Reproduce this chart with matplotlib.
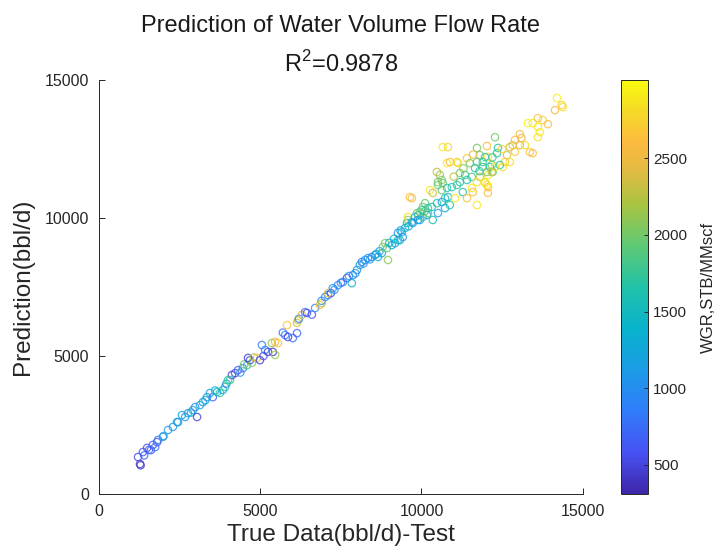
import numpy as np
import matplotlib.pyplot as plt
from matplotlib.colors import LinearSegmentedColormap, Normalize
from matplotlib.cm import ScalarMappable

plt.rcParams['font.family'] = ['Liberation Sans', 'DejaVu Sans']
plt.rcParams['mathtext.fontset'] = 'custom'
plt.rcParams['mathtext.rm'] = 'Liberation Sans'

# true value (bbl/d), predicted value (bbl/d), WGR (STB/MMscf)
true_low = [1270, 1290, 1210, 1360, 1400, 1490, 1550, 1610, 1670, 1740, 1800, 1830, 1980, 2000,
            2140, 2290, 2420, 2450, 2570, 2670, 2760, 2850, 2910, 3040, 2980, 3130, 3220, 3300,
            3350, 3440, 3530, 3600, 3660, 3750, 3840, 3910, 3950, 4060, 4120]
pred_low = [1087, 1040, 1340, 1520, 1400, 1670, 1600, 1590, 1780, 1700, 1880, 1960, 2070, 2100,
            2320, 2430, 2610, 2600, 2860, 2790, 2930, 2950, 3040, 2790, 3150, 3220, 3330, 3400,
            3510, 3660, 3510, 3750, 3700, 3660, 3770, 3880, 4000, 4130, 4310]
wgr_low = [450, 400, 500, 600, 700, 550, 650, 700, 650, 750, 600, 800, 1150, 1100,
           1100, 1050, 1200, 1150, 1250, 1000, 1150, 1200, 1300, 500, 900, 1250, 1000, 1350,
           1100, 1200, 700, 1350, 1400, 1750, 1300, 1600, 1000, 1650, 450]

true_mid = [4000, 4220, 4310, 4380, 4460, 4500, 4590, 4680, 4740, 4620, 4800, 4900, 4990, 5050,
            5100, 5150, 5240, 5360, 5390, 5460, 5550, 5460, 5700, 5770, 5860, 5830, 6010, 6140,
            6140, 6170, 6200, 6290, 6390, 6450, 6600, 6700, 6850, 6900, 6910, 7010, 7100, 7190,
            7100]
pred_mid = [4130, 4380, 4490, 4400, 4560, 4700, 4670, 4850, 4750, 4930, 4950, 4930, 4850, 5400,
            5000, 5220, 5150, 5470, 5150, 5040, 5470, 5510, 5850, 5760, 5690, 6120, 5650, 5830,
            6200, 6300, 6350, 6490, 6590, 6560, 6500, 6740, 6850, 7000, 6920, 7140, 7210, 7280,
            7280]
wgr_mid = [1750, 500, 650, 1100, 800, 2000, 1750, 500, 2050, 450, 2150, 2550, 450, 850,
           600, 900, 450, 2100, 450, 2150, 2600, 2500, 750, 850, 500, 2650, 750, 700,
           2350, 2300, 900, 2400, 800, 550, 600, 950, 2600, 1000, 2300, 900, 1000, 500,
           2550]

true_up = [7250, 7300, 7410, 7500, 7560, 7690, 7750, 7840, 7870, 7950, 8000, 8090, 8150, 8200,
           8250, 8340, 8400, 8460, 8560, 8600, 8650, 8700, 8770, 8800, 8870, 8930, 8960, 9000,
           9080, 9150, 9180, 9270, 9270, 9330, 9350, 9390, 9420, 9490, 9550, 9580, 9580, 9600,
           9640, 9700, 9700, 9730, 9800, 9860, 9890, 9900, 9950, 9950, 10010, 10040, 10040, 10100,
           10110, 10170, 10200, 10200, 10350]
pred_up = [7460, 7400, 7570, 7650, 7680, 7830, 7900, 7640, 7930, 8000, 8120, 8300, 8410, 8350,
           8480, 8550, 8500, 8590, 8660, 8700, 8590, 8800, 8730, 8950, 9090, 8910, 8480, 9100,
           9020, 9250, 9090, 9200, 9460, 9200, 9550, 9490, 9310, 9640, 9820, 9930, 10040, 9700,
           10760, 10720, 9850, 9820, 10040, 10180, 9930, 10100, 9930, 10220, 10290, 10400, 10040, 10250,
           10540, 10110, 10360, 10180, 9930]
wgr_up = [1000, 1100, 950, 850, 900, 550, 1050, 1350, 900, 1200, 950, 1300, 850, 1000,
          1000, 1050, 1150, 900, 1100, 1300, 1200, 1150, 1250, 2000, 2050, 1900, 2100, 1350,
          1200, 1450, 1300, 1400, 1100, 1400, 1200, 1250, 1050, 1400, 1500, 2050, 2850, 1300,
          2650, 2600, 1150, 1200, 1350, 2000, 1000, 1500, 1200, 2000, 1750, 2000, 1650, 1850,
          1950, 1100, 1700, 1950, 1600]

true_high = [10320, 10480, 10630, 10730, 10820, 10510, 10730, 10880, 10510, 10630,
             10660, 10820, 11720, 12030, 12280, 11810, 12060, 12340, 11410, 11130, 10790, 10880,
             11100, 11500, 11720, 11900, 11660, 11900, 12180, 10480, 10570, 11190, 11350, 11560,
             11810, 12060, 12210, 10510, 10660, 11190, 11410, 11720, 11970, 12060, 11560, 10260,
             10350, 10630, 10790, 10940, 11100, 11280, 11590, 11040, 11410, 11720, 12060,
             11000, 11300, 11600, 11800, 12200]
pred_high = [10400, 10540, 10580, 10720, 10760, 10180, 10360, 10470, 11200, 11380,
             12570, 12570, 12540, 12610, 12930, 12280, 12210, 12350, 12170, 11990, 11990, 12030,
             12030, 11990, 12030, 12030, 11810, 11850, 11920, 11670, 11560, 11630, 11560, 11490,
             11490, 11560, 11670, 11300, 11270, 11300, 11380, 11300, 11270, 11120, 11090, 11010,
             10910, 11010, 11090, 11120, 11200, 10940, 10940, 10720, 10720, 10470, 10910,
             11500, 11800, 12300, 11700, 12200]
wgr_high = [1600, 1700, 1150, 1600, 1500, 1100, 1300, 1650, 2000, 2050,
            2900, 2750, 2000, 2600, 2000, 2050, 2850, 1650, 2700, 2900, 2900, 2600,
            2750, 2050, 1950, 1700, 1700, 1750, 2050, 2300, 2100, 2000, 1750, 1800,
            2300, 2900, 2000, 2000, 1950, 1700, 1650, 2900, 2850, 2600, 2900, 2900,
            2350, 1950, 1700, 1650, 1700, 1600, 2650, 2900, 2650, 2900, 2600,
            2300, 2100, 2500, 1700, 1800]

true_top = [14200, 14350, 14380, 14140, 13300, 13450, 13610, 13760, 13920, 13610, 13670, 13610,
            13050, 12900, 12830, 12740, 13050, 13210, 13360, 13450, 12370, 12650, 12740, 12590,
            11970, 12120, 12280, 12430, 12520, 12030, 12180, 11970, 12030, 12500, 12900, 13100]
pred_top = [14350, 14090, 14020, 13910, 13440, 13440, 13620, 13550, 13400, 13300, 13110, 12930,
            13040, 12830, 12640, 12570, 12640, 12640, 12390, 12350, 12540, 12280, 12030, 12030,
            12210, 11850, 11850, 11920, 11850, 11670, 11670, 11300, 11200, 12500, 12400, 12900]
wgr_top = [2950, 2700, 2850, 2550, 2950, 2900, 2650, 2750, 2600, 2900, 2900, 2850,
           2600, 2600, 2400, 2350, 2400, 2850, 2650, 2600, 1650, 2350, 2850, 2700,
           1700, 1650, 2900, 1700, 2850, 2050, 2300, 2900, 2850, 2800, 2700, 2500]

true_data = true_low + true_mid + true_up + true_high + true_top
prediction = pred_low + pred_mid + pred_up + pred_high + pred_top
wgr = wgr_low + wgr_mid + wgr_up + wgr_high + wgr_top

# parula-like colormap
parula = LinearSegmentedColormap.from_list('parula', [
    (0.00, (0.2422, 0.1504, 0.6603)),
    (0.10, (0.2810, 0.3228, 0.9579)),
    (0.20, (0.1900, 0.4900, 0.9800)),
    (0.30, (0.1100, 0.6100, 0.9000)),
    (0.40, (0.0300, 0.7000, 0.8000)),
    (0.50, (0.1300, 0.7600, 0.6600)),
    (0.60, (0.3700, 0.7900, 0.4600)),
    (0.70, (0.6600, 0.7700, 0.2600)),
    (0.78, (0.8800, 0.7300, 0.2600)),
    (0.85, (0.9900, 0.7300, 0.2500)),
    (0.93, (0.9600, 0.8600, 0.1500)),
    (1.00, (0.9763, 0.9831, 0.0538)),
])
norm = Normalize(vmin=310, vmax=3010)

fig = plt.figure(figsize=(7.15, 5.56), dpi=100)
ax = fig.add_axes([0.1385, 0.1115, 0.6765, 0.7445])
cax = fig.add_axes([0.8685, 0.1115, 0.0378, 0.7445])

edge = parula(norm(np.array(wgr)))
ax.scatter(true_data, prediction, s=28, facecolors='none', edgecolors=edge,
           linewidths=0.9, alpha=0.8)

ax.set_xlim(0, 15000)
ax.set_ylim(0, 15000)
ax.set_xticks([0, 5000, 10000, 15000])
ax.set_yticks([0, 5000, 10000, 15000])
for s in ['top', 'right']:
    ax.spines[s].set_visible(False)
for s in ['left', 'bottom']:
    ax.spines[s].set_color('#262626')
    ax.spines[s].set_linewidth(0.7)
ax.tick_params(direction='in', length=4, width=0.7, colors='#262626', labelsize=11.5, pad=7)

ax.set_xlabel('True Data(bbl/d)-Test', fontsize=17.5, color='#262626', labelpad=4)
ax.set_ylabel('Prediction(bbl/d)', fontsize=17.5, color='#262626', labelpad=8)
ax.set_title('Prediction of Water Volume Flow Rate\n' + r'R$^{\mathregular{2}}$=0.9878',
             fontsize=17, color='#1a1a1a', pad=6, linespacing=1.65)

cb = fig.colorbar(ScalarMappable(norm=norm, cmap=parula), cax=cax)
cb.set_ticks([500, 1000, 1500, 2000, 2500])
cb.ax.tick_params(direction='in', length=3, width=0.7, colors='#262626', labelsize=11)
cb.outline.set_edgecolor('#262626')
cb.outline.set_linewidth(0.7)
cb.set_label('WGR,STB/MMscf', fontsize=12, color='#262626', labelpad=10)

fig.savefig('out.png', dpi=100)
